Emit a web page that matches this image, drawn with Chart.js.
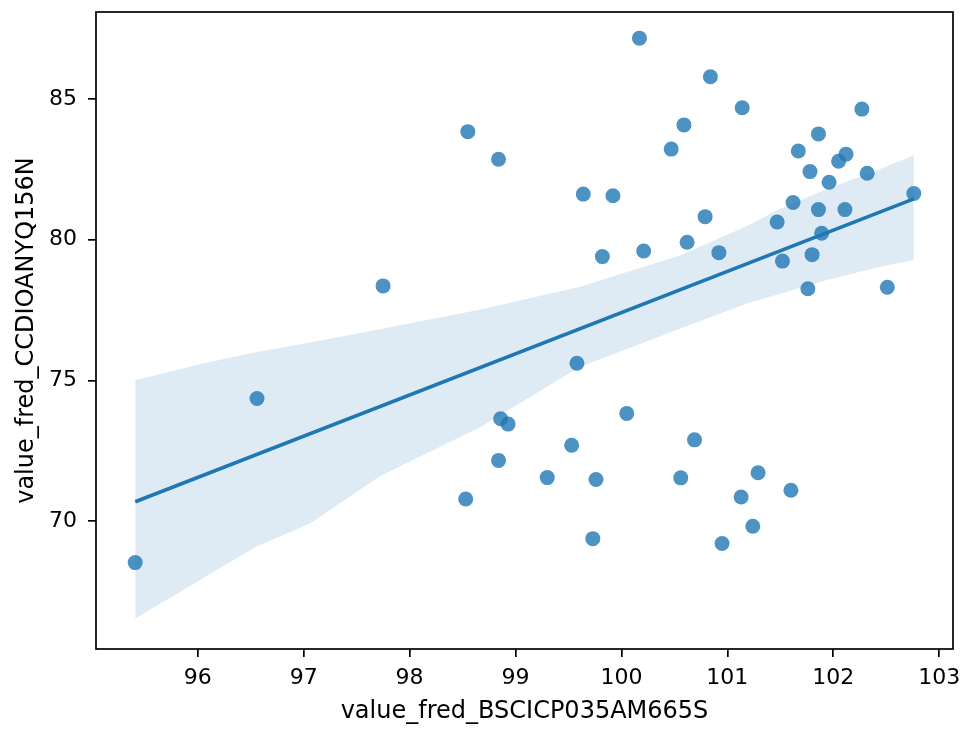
<!DOCTYPE html>
<html>
<head>
<meta charset="utf-8">
<script src="https://cdn.jsdelivr.net/npm/chart.js@4.4.1/dist/chart.umd.min.js"></script>
<style>
    html, body { margin: 0; padding: 0; background: #fff; }
</style>
</head>
<body>
<canvas id="myChart" width="966" height="729"></canvas>
<script>
// scatter values
const xValues = [98.55, 98.84, 99.64, 99.92, 99.82, 97.75, 100.17, 100.84, 101.14, 100.59,
                 100.47, 102.27, 101.86, 101.67, 102.12, 102.05, 101.78, 102.32, 101.96, 102.76,
                 101.62, 100.79, 101.86, 102.11, 101.47, 101.89, 100.21, 100.62, 100.92, 101.52,
                 101.80, 101.76, 102.51, 99.58, 98.86, 98.93, 100.05, 99.53, 98.84, 99.30,
                 99.76, 98.53, 99.73, 100.69, 100.56, 101.29, 101.60, 101.13, 101.24, 100.95,
                 95.41, 96.56];
const yValues = [83.84, 82.86, 81.62, 81.56, 79.40, 78.36, 87.16, 85.79, 84.69, 84.08,
                 83.22, 84.64, 83.76, 83.15, 83.04, 82.79, 82.42, 82.36, 82.04, 81.64,
                 81.32, 80.82, 81.07, 81.07, 80.63, 80.23, 79.60, 79.91, 79.54, 79.24,
                 79.47, 78.26, 78.31, 75.61, 73.64, 73.45, 73.83, 72.70, 72.16, 71.55,
                 71.48, 70.79, 69.38, 72.89, 71.54, 71.72, 71.10, 70.86, 69.82, 69.21,
                 68.53, 74.36];

// regression line ends
const fitX = [95.41, 102.76];
const fitY = [70.69, 81.45];

// confidence band edges
const bandX    = [95.41, 96.05, 96.55, 97.06, 97.72, 98.67, 99.61, 100.56, 101.19, 101.50, 101.94, 102.44, 102.76];
const bandLow  = [66.54, 67.97, 69.09, 69.92, 71.60, 73.35, 75.49, 76.85, 77.74, 78.08, 78.57, 79.04, 79.28];
const bandHigh = [75.01, 75.60, 76.00, 76.35, 76.82, 77.52, 78.33, 79.45, 80.50, 81.10, 81.80, 82.50, 83.01];

const xTicks = [96, 97, 98, 99, 100, 101, 102, 103];
const yTicks = [70, 75, 80, 85];
const xLimits = [95.04, 103.13];
const yLimits = [65.46, 88.09];

const xLabel = 'value_fred_BSCICP035AM665S';
const yLabel = 'value_fred_CCDIOANYQ156N';

const blue = '#1f77b4';

function pairs(xs, ys){
    return xs.map(function(x, i){
        return {x: x, y: ys[i]};
    });
}

// black box around the plot area (matplotlib spines)
const framePlugin = {
    id: 'frame',
    afterDraw: function(chart){
        const a = chart.chartArea;
        const ctx = chart.ctx;
        ctx.save();
        ctx.strokeStyle = '#000';
        ctx.lineWidth = 1.7;
        ctx.strokeRect(a.left, a.top, a.right - a.left, a.bottom - a.top);
        ctx.restore();
    }
};

Chart.defaults.font.family = '"DejaVu Sans", sans-serif';
Chart.defaults.font.size = 22;
Chart.defaults.color = '#000';

const tickGrid = {
    drawOnChartArea: false,
    drawTicks: true,
    tickLength: 8,
    color: '#000',
    lineWidth: 1.7
};

new Chart(document.getElementById('myChart'), {
    type: 'scatter',
    data: {
        datasets: [{
            type: 'line',
            data: pairs(fitX, fitY),
            borderColor: blue,
            borderWidth: 3.6,
            pointRadius: 0,
            fill: false
        }, {
            type: 'line',
            data: pairs(bandX, bandHigh),
            borderColor: 'rgba(0,0,0,0)',
            borderWidth: 0,
            pointRadius: 0,
            backgroundColor: 'rgba(31,119,180,0.15)',
            fill: '+1'
        }, {
            type: 'line',
            data: pairs(bandX, bandLow),
            borderColor: 'rgba(0,0,0,0)',
            borderWidth: 0,
            pointRadius: 0,
            fill: false
        }, {
            type: 'scatter',
            data: pairs(xValues, yValues),
            backgroundColor: 'rgba(31,119,180,0.8)',
            borderWidth: 0,
            pointRadius: 7.5,
            pointHoverRadius: 7.5
        }]
    },
    options: {
        responsive: false,
        animation: false,
        devicePixelRatio: 1,
        layout: {
            padding: {left: 0, right: 13, top: 12, bottom: 0}
        },
        plugins: {
            legend: {display: false},
            tooltip: {enabled: false}
        },
        scales: {
            x: {
                type: 'linear',
                min: xLimits[0],
                max: xLimits[1],
                afterBuildTicks: function(scale){
                    scale.ticks = xTicks.map(function(v){ return {value: v}; });
                },
                afterFit: function(scale){
                    scale.height = 80;
                    scale.paddingLeft = 0;
                    scale.paddingRight = 0;
                },
                grid: tickGrid,
                border: {display: false},
                ticks: {
                    padding: 8,
                    maxRotation: 0,
                    autoSkip: false,
                    callback: function(v){ return String(v); }
                },
                title: {
                    display: true,
                    text: xLabel,
                    font: {size: 24},
                    padding: {top: 0, bottom: 3}
                }
            },
            y: {
                type: 'linear',
                min: yLimits[0],
                max: yLimits[1],
                afterBuildTicks: function(scale){
                    scale.ticks = yTicks.map(function(v){ return {value: v}; });
                },
                afterFit: function(scale){
                    scale.width = 96;
                    scale.paddingTop = 0;
                    scale.paddingBottom = 0;
                },
                grid: tickGrid,
                border: {display: false},
                ticks: {
                    padding: 11,
                    autoSkip: false,
                    callback: function(v){ return String(v); }
                },
                title: {
                    display: true,
                    text: yLabel,
                    font: {size: 24},
                    padding: {top: 12, bottom: 0}
                }
            }
        }
    },
    plugins: [framePlugin]
});
</script>
</body>
</html>
